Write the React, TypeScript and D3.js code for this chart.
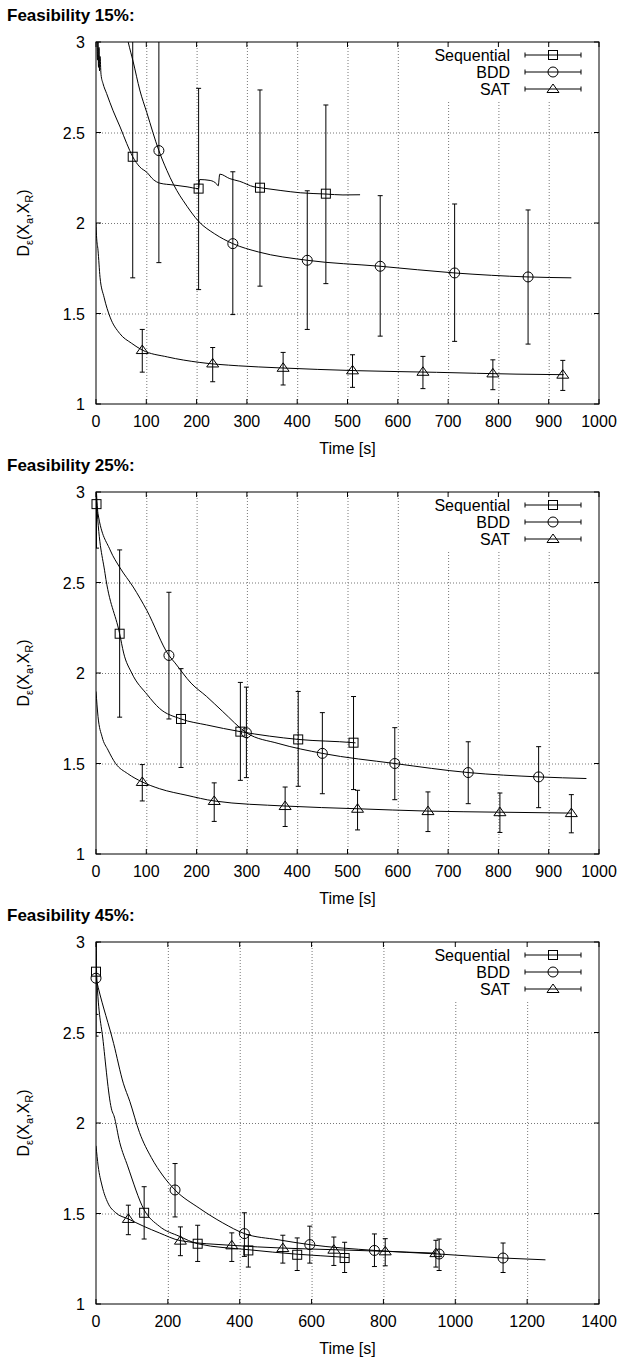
import React from 'react';
import * as d3 from 'd3';

// ---------- labels / axes ----------
const titles = ['Feasibility 15%:', 'Feasibility 25%:', 'Feasibility 45%:'];
const xMaxes = [1000, 1000, 1400];
const xTickSteps = [100, 100, 200];
const yTicks = [1, 1.5, 2, 2.5, 3];
const seriesNames = ['Sequential', 'BDD', 'SAT'];
const xLabel = 'Time [s]';

// ---------- Feasibility 15% ----------
// curves: [time, value]
const f15SeqCurve = [[2, 3.05], [3, 2.9], [4, 3.0], [5, 2.86], [6, 2.97], [7, 2.84], [8, 2.92], [10, 2.82], [14, 2.77], [21, 2.716], [34, 2.62], [48, 2.53], [61, 2.44], [73, 2.366], [87, 2.31], [101, 2.28], [114, 2.24], [127, 2.22], [154, 2.21], [181, 2.2], [204, 2.19], [206, 2.24], [227, 2.235], [240, 2.215], [243, 2.205], [246, 2.27], [266, 2.245], [286, 2.23], [314, 2.2], [326, 2.195], [366, 2.18], [406, 2.167], [457, 2.16], [491, 2.155], [525, 2.156]];
const f15BddCurve = [[60, 3.05], [64, 3.0], [74, 2.89], [87, 2.735], [101, 2.61], [125, 2.40], [141, 2.29], [167, 2.15], [173, 2.125], [205, 2.006], [236, 1.94], [272, 1.886], [323, 1.84], [420, 1.794], [565, 1.761], [713, 1.724], [859, 1.702], [945, 1.697]];
const f15SatCurve = [[0, 2.0], [1, 1.93], [4, 1.85], [8, 1.70], [16, 1.59], [28, 1.48], [47, 1.39], [71, 1.335], [92, 1.298], [142, 1.26], [205, 1.23], [283, 1.211], [362, 1.2], [520, 1.184], [677, 1.175], [835, 1.165], [930, 1.162]];
// points: [time, mean, low, high]
const f15SeqPts = [[73, 2.366, 1.697, 3.2], [204, 2.19, 1.632, 2.744], [326, 2.195, 1.651, 2.735], [457, 2.162, 1.665, 2.652]];
const f15BddPts = [[125, 2.40, 1.781, 3.2], [272, 1.886, 1.494, 2.283], [420, 1.794, 1.412, 2.178], [565, 1.761, 1.375, 2.151], [713, 1.724, 1.346, 2.105], [859, 1.702, 1.331, 2.072]];
const f15SatPts = [[92, 1.298, 1.176, 1.412], [232, 1.224, 1.123, 1.312], [372, 1.2, 1.105, 1.285], [510, 1.186, 1.092, 1.272], [650, 1.178, 1.085, 1.263], [789, 1.169, 1.079, 1.244], [928, 1.162, 1.075, 1.241]];

// ---------- Feasibility 25% ----------
const f25SeqCurve = [[0, 3.05], [1.4, 2.936], [18, 2.549], [47, 2.217], [55, 2.11], [71, 2.0], [102, 1.88], [126, 1.805], [169, 1.746], [220, 1.713], [287, 1.676], [402, 1.633], [512, 1.615], [516, 1.614]];
const f25BddCurve = [[0, 3.05], [4, 2.88], [28, 2.68], [48, 2.58], [74, 2.475], [101, 2.346], [145, 2.097], [157, 2.056], [189, 1.944], [220, 1.87], [252, 1.787], [299, 1.67], [362, 1.611], [450, 1.556], [594, 1.5], [740, 1.45], [880, 1.426], [975, 1.417]];
const f25SatCurve = [[0, 1.898], [4, 1.76], [12, 1.648], [24, 1.574], [39, 1.5], [63, 1.444], [92, 1.398], [126, 1.361], [181, 1.324], [235, 1.293], [376, 1.265], [520, 1.25], [660, 1.237], [803, 1.231], [945, 1.226]];
const f25SeqPts = [[1, 2.933, 2.69, 3.2], [47, 2.217, 1.756, 2.68], [169, 1.746, 1.478, 2.024], [287, 1.676, 1.407, 1.948], [402, 1.633, 1.374, 1.898], [512, 1.615, 1.356, 1.87]];
const f25BddPts = [[145, 2.097, 1.746, 2.446], [299, 1.67, 1.422, 1.922], [450, 1.556, 1.333, 1.781], [594, 1.5, 1.3, 1.698], [740, 1.45, 1.278, 1.62], [880, 1.426, 1.256, 1.593]];
const f25SatPts = [[92, 1.398, 1.293, 1.494], [235, 1.293, 1.18, 1.393], [376, 1.265, 1.152, 1.37], [520, 1.25, 1.133, 1.352], [660, 1.237, 1.124, 1.343], [803, 1.231, 1.119, 1.337], [945, 1.226, 1.117, 1.328]];

// ---------- Feasibility 45% ----------
const f45SeqCurve = [[0, 3.05], [2, 2.81], [20, 2.45], [44, 2.07], [50, 2.04], [66, 1.893], [88, 1.763], [134, 1.52], [176, 1.43], [232, 1.374], [283, 1.333], [424, 1.3], [560, 1.275], [692, 1.258], [705, 1.256]];
const f45BddCurve = [[0, 2.8], [6, 2.75], [49, 2.44], [76, 2.22], [94, 2.12], [121, 1.948], [154, 1.809], [187, 1.707], [220, 1.63], [287, 1.53], [353, 1.448], [413, 1.389], [507, 1.355], [595, 1.328], [775, 1.296], [955, 1.276], [1133, 1.254], [1251, 1.244]];
const f45SatCurve = [[0, 1.874], [6, 1.763], [17, 1.652], [33, 1.559], [55, 1.504], [90, 1.47], [132, 1.43], [176, 1.393], [235, 1.35], [378, 1.324], [520, 1.309], [662, 1.3], [805, 1.291], [946, 1.281]];
const f45SeqPts = [[0, 2.836, 2.48, 3.2], [134, 1.504, 1.359, 1.648], [283, 1.333, 1.235, 1.435], [424, 1.296, 1.204, 1.383], [560, 1.272, 1.185, 1.365], [692, 1.254, 1.174, 1.341]];
const f45BddPts = [[0, 2.8, 2.6, 3.0], [220, 1.63, 1.481, 1.776], [413, 1.389, 1.263, 1.504], [595, 1.328, 1.226, 1.43], [775, 1.296, 1.207, 1.387], [955, 1.276, 1.185, 1.359], [1133, 1.254, 1.174, 1.337]];
const f45SatPts = [[90, 1.47, 1.383, 1.546], [235, 1.35, 1.267, 1.426], [378, 1.324, 1.235, 1.393], [520, 1.309, 1.226, 1.38], [662, 1.3, 1.213, 1.37], [805, 1.291, 1.211, 1.361], [946, 1.281, 1.204, 1.352]];

const panelCurves = [
  [f15SeqCurve, f15BddCurve, f15SatCurve],
  [f25SeqCurve, f25BddCurve, f25SatCurve],
  [f45SeqCurve, f45BddCurve, f45SatCurve],
];
const panelPoints = [
  [f15SeqPts, f15BddPts, f15SatPts],
  [f25SeqPts, f25BddPts, f25SatPts],
  [f45SeqPts, f45BddPts, f45SatPts],
];

// ---------- layout ----------
const W = 622;
const H = 1360;
const LEFT = 96;
const RIGHT = 599;
const PANEL_TOP0 = 42;
const PANEL_STEP = 450;
const PLOT_H = 362;
const FONT = '"Liberation Sans", Arial, Helvetica, sans-serif';

function Marker({ kind, x, y }: { kind: number; x: number; y: number }) {
  if (kind === 0) return <rect x={x - 4.5} y={y - 4.5} width={9} height={9} fill="none" stroke="#000" strokeWidth={1} />;
  if (kind === 1) return <circle cx={x} cy={y} r={5} fill="none" stroke="#000" strokeWidth={1} />;
  return <path d={`M${x},${y - 5}L${x + 6},${y + 3.5}L${x - 6},${y + 3.5}Z`} fill="none" stroke="#000" strokeWidth={1} />;
}

function Panel({ idx }: { idx: number }) {
  const top = PANEL_TOP0 + idx * PANEL_STEP;
  const bottom = top + PLOT_H;
  const x = d3.scaleLinear().domain([0, xMaxes[idx]]).range([LEFT, RIGHT]);
  const y = d3.scaleLinear().domain([1, 3]).range([bottom, top]);
  const xTicks = d3.range(0, xMaxes[idx] + 1, xTickSteps[idx]);
  const line = d3.line<number[]>().x((d) => x(d[0])).y((d) => y(d[1])).curve(d3.curveMonotoneX);
  const clipId = `clip${idx}`;
  const legTop = top;
  const legRows = [13, 30, 47];
  const cy = (top + bottom) / 2;

  return (
    <g>
      <defs>
        <clipPath id={clipId}>
          <rect x={LEFT} y={top} width={RIGHT - LEFT} height={PLOT_H} />
        </clipPath>
      </defs>
      {/* title */}
      <text x={7} y={top - 21} fontFamily={FONT} fontWeight="bold" fontSize={17}>{titles[idx]}</text>
      {/* grid */}
      <g stroke="#777" strokeWidth={1} strokeDasharray="1,2">
        {xTicks.slice(1, -1).map((t) => (
          <line key={'gx' + t} x1={x(t) + 0.5} x2={x(t) + 0.5} y1={top} y2={bottom} />
        ))}
        {yTicks.slice(1, -1).map((v) => (
          <line key={'gy' + v} x1={LEFT} x2={RIGHT} y1={y(v) + 0.5} y2={y(v) + 0.5} />
        ))}
      </g>
      {/* legend box */}
      <rect x={428} y={legTop + 1} width={RIGHT - 428 - 1} height={57} fill="#fff" />
      {/* data */}
      <g clipPath={`url(#${clipId})`}>
        {panelCurves[idx].map((c, s) => (
          <path key={'c' + s} d={line(c as number[][]) || ''} fill="none" stroke="#000" strokeWidth={1} />
        ))}
        {panelPoints[idx].map((pts, s) =>
          pts.map((p, i) => {
            const px = x(p[0]);
            return (
              <g key={`e${s}-${i}`} stroke="#000" strokeWidth={1}>
                <line x1={px} x2={px} y1={y(p[2])} y2={y(p[3])} />
                <line x1={px - 2.5} x2={px + 2.5} y1={y(p[2])} y2={y(p[2])} />
                <line x1={px - 2.5} x2={px + 2.5} y1={y(p[3])} y2={y(p[3])} />
              </g>
            );
          })
        )}
      </g>
      {panelPoints[idx].map((pts, s) =>
        pts.map((p, i) => <Marker key={`m${s}-${i}`} kind={s} x={x(p[0])} y={y(p[1])} />)
      )}
      {/* border */}
      <rect x={LEFT} y={top} width={RIGHT - LEFT} height={PLOT_H} fill="none" stroke="#000" strokeWidth={1} />
      {/* ticks */}
      <g stroke="#000" strokeWidth={1}>
        {xTicks.map((t) => (
          <g key={'tx' + t}>
            <line x1={x(t)} x2={x(t)} y1={bottom} y2={bottom - 5} />
            <line x1={x(t)} x2={x(t)} y1={top} y2={top + 5} />
          </g>
        ))}
        {yTicks.map((v) => (
          <g key={'ty' + v}>
            <line x1={LEFT} x2={LEFT + 5} y1={y(v)} y2={y(v)} />
            <line x1={RIGHT} x2={RIGHT - 5} y1={y(v)} y2={y(v)} />
          </g>
        ))}
      </g>
      {/* tick labels */}
      <g fontFamily={FONT} fontSize={16} fill="#000">
        {xTicks.map((t) => (
          <text key={'lx' + t} x={x(t)} y={bottom + 23} textAnchor="middle">{t}</text>
        ))}
        {yTicks.map((v) => (
          <text key={'ly' + v} x={85} y={y(v) + 6} textAnchor="end">{v}</text>
        ))}
        <text x={(LEFT + RIGHT) / 2} y={bottom + 50} textAnchor="middle">{xLabel}</text>
        <text transform={`translate(29,${cy}) rotate(-90)`} textAnchor="middle">
          D<tspan fontSize={11} dy={4}>ε</tspan>
          <tspan dy={-4}>(X</tspan>
          <tspan fontSize={11} dy={4}>a</tspan>
          <tspan dy={-4}>,X</tspan>
          <tspan fontSize={11} dy={4}>R</tspan>
          <tspan dy={-4}>)</tspan>
        </text>
      </g>
      {/* legend */}
      {seriesNames.map((n, s) => {
        const ry = legTop + legRows[s];
        return (
          <g key={'lg' + n}>
            <text x={510} y={ry + 5.5} textAnchor="end" fontFamily={FONT} fontSize={16}>{n}</text>
            <g stroke="#000" strokeWidth={1}>
              <line x1={525} x2={581} y1={ry} y2={ry} />
              <line x1={525} x2={525} y1={ry - 2.5} y2={ry + 2.5} />
              <line x1={581} x2={581} y1={ry - 2.5} y2={ry + 2.5} />
            </g>
            <Marker kind={s} x={553} y={ry} />
          </g>
        );
      })}
    </g>
  );
}

export default function App() {
  return (
    <svg width={W} height={H} style={{ position: 'absolute', left: 0, top: 0, background: '#fff' }}>
      <rect x={0} y={0} width={W} height={H} fill="#fff" />
      {[0, 1, 2].map((i) => (
        <Panel key={i} idx={i} />
      ))}
    </svg>
  );
}
